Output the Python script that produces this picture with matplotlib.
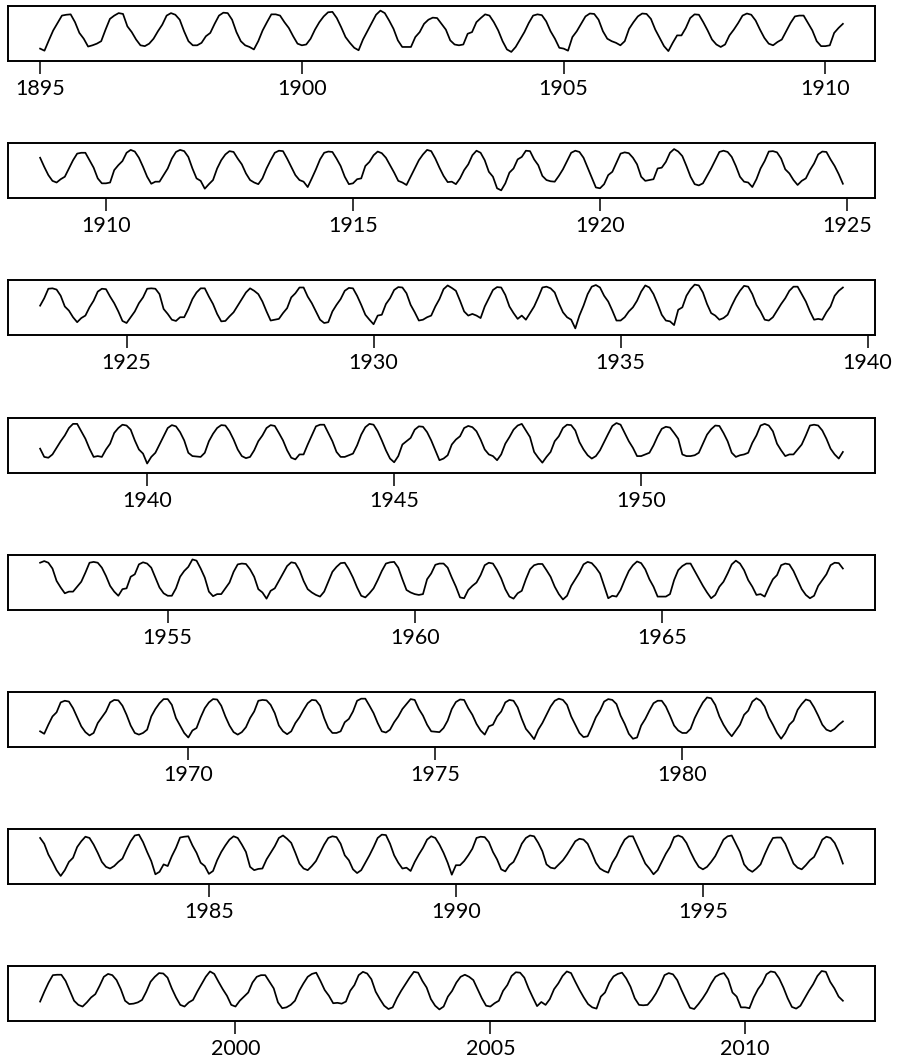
import matplotlib
matplotlib.use("Agg")
import matplotlib.pyplot as plt
from matplotlib.ticker import FixedLocator, FormatStrFormatter
import numpy as np

# monthly mean temperature (deg F), Jan..Dec, one row per year
temp_1890s = [
    31, 28.5, 41, 53, 62, 71, 72, 72.5, 63, 50, 43, 33.5,      # 1895
    35, 37, 40, 54, 67, 71, 74, 73, 58, 51, 42, 35,            # 1896
    34, 37, 43, 52, 60, 71, 74, 72, 66, 52, 40, 35,            # 1897
    35, 38, 46, 50, 61, 71, 74.5, 74, 66, 51, 40, 35,          # 1898
    33, 30, 40, 53, 63, 72.5, 72.5, 71, 63, 56, 46, 37,        # 1899
]
temp_1900s = [
    35, 36, 43, 54, 63, 70, 75, 75.5, 68, 57, 45, 38,
    32, 29, 42, 52, 62, 72, 77, 74, 65, 55, 41, 33,
    33, 33, 45, 51, 61, 66, 68.5, 68, 61, 54, 41, 36,
    35, 36, 49, 51, 63, 68, 72.5, 71, 63, 53, 40, 30,
    27, 33, 42, 51, 62, 71, 72.5, 71.5, 64, 52, 43, 32,
    31, 28.5, 45, 52, 61, 70, 73.5, 73, 66, 52, 43, 40,
    38, 35, 40, 55, 63, 70, 73.5, 73, 67, 54, 44, 34,
    28, 38, 47, 47, 56, 68, 72.5, 72, 63, 53, 42, 36,
    33, 36, 47, 54, 62, 71, 73.5, 72, 65, 54, 44, 37,
    35, 39, 42, 52, 62, 70, 71, 71, 62, 53, 40, 34,
]
temp_1910s = [
    34, 35, 50, 56, 61, 71, 74.5, 72.5, 65, 54, 42, 33.5,
    36, 36, 44, 52, 64, 72, 74.5, 73, 66, 52, 40, 37,
    27.5, 33, 38, 52, 62, 69, 73, 72, 64, 57, 46, 38,
    35, 33, 40, 52, 62, 71, 73.5, 73, 64, 54, 44, 38,
    36, 29.5, 40, 51, 63, 71, 72.5, 72, 64, 55, 42, 33,
    34, 39, 40, 55, 60, 68, 72.5, 70.5, 65, 56, 47, 37,
    35, 32, 42, 52, 62, 69, 74.5, 73, 64, 53, 43, 35.5,
    36, 33, 40, 50, 57, 68, 73.5, 71, 62, 48, 42, 28,
    25.5, 34, 47, 52, 63, 66, 73.5, 73, 63, 56, 43, 38,
    36.5, 36, 43, 51, 61, 71, 73.5, 72, 65, 53, 41, 29,
]
temp_1920s = [
    28, 33, 44, 48, 59, 70, 71.5, 70.5, 65, 57, 42, 37,
    38, 39, 52, 53, 60, 71, 75.5, 72.5, 67, 55, 42, 33,
    31.5, 34, 43, 52, 62, 72, 73.5, 72, 66, 55, 42, 36,
    35, 29.5, 39, 52, 61, 72.5, 73, 71.5, 64, 51, 46, 38,
    32, 37, 40, 50, 58, 69, 72.5, 72, 63, 55, 45, 33.5,
    31, 38, 45, 55, 62, 72.5, 73, 72.5, 66, 48, 42, 35,
    33.5, 38, 38, 48, 60, 68, 73, 73, 63, 54, 42, 33,
    33.5, 39, 44, 52, 60, 68, 73, 70, 66, 57, 45, 34,
    35, 36, 43, 49, 62, 67, 74, 74, 63, 55, 45, 35,
    31, 32, 45, 53, 60, 70, 73.5, 73, 64, 53, 41, 35,
]
temp_1930s = [
    29.5, 40, 41, 54, 61, 71, 74.5, 74, 67, 53, 44, 34,
    35, 38, 40, 51, 60, 72, 76.5, 73.5, 70, 58, 45, 40,
    42, 40, 37, 51, 61, 71, 74.5, 74, 65, 51, 43, 36,
    40, 35, 43, 51, 62, 74, 75, 73, 68, 55, 44, 38,
    35, 24.5, 40, 52, 66, 75, 77, 74, 64, 57, 46, 34,
    34, 38, 45, 50, 58, 69, 76.5, 74, 66, 54, 41, 34,
    33, 28.5, 47, 50, 64, 72, 77.5, 76.5, 68, 54, 43, 40,
    35, 37, 41, 52, 62, 70, 76, 75, 66, 53, 45, 35,
    34, 38, 46, 54, 61, 70, 75, 75, 66, 57, 45, 35,
    36, 35, 44, 51, 64, 70, 74, 73, 68, 55, 44, 39,
]
temp_1940s = [
    27, 35, 40, 50, 60, 70, 73.5, 72, 65, 55, 40, 36,
    35.5, 35, 40, 54, 63, 70, 73.5, 73, 66, 56, 44, 36,
    33.5, 35, 43, 54, 61, 70, 73.5, 72.5, 64, 55, 43, 34,
    32, 38, 38, 50, 61, 72, 74, 74, 64, 54, 41, 35,
    35, 37, 39, 49, 62, 71, 75, 74, 66, 55, 43, 33,
    28.5, 36, 50, 54, 58, 68, 72, 71.5, 65, 55, 43, 31,
    33, 37, 50, 56, 60, 70, 72.5, 71, 66, 56, 44, 38,
    36, 31, 38, 51, 59, 68, 73, 75, 67, 59, 41, 34,
    28, 35, 41, 54, 60, 70, 74, 73.5, 67, 53, 44, 37,
    33, 36, 43, 53, 63, 72.5, 76, 74, 64, 54, 46, 36,
]
temp_1950s = [
    36, 38, 40, 49, 60, 69, 71.5, 70.5, 64, 57, 38, 36,
    36, 37, 40, 51, 62, 68.5, 73, 72.5, 64, 54, 40, 35,
    37, 38, 40, 52, 61, 73, 75, 73, 66, 51, 43, 36,
    38, 38, 44, 50, 61, 73, 74, 73, 67, 57, 45, 38,
    33, 41, 42, 56, 59, 71, 73.5, 72, 67, 55, 43, 36,
    33, 33, 42, 56, 63, 68, 77, 75.5, 66, 55, 38, 32.5,
    35, 35, 42, 49, 62, 71, 72, 71.5, 65, 56, 41, 37,
    29.5, 39, 42, 51, 60, 69, 73.5, 72.5, 64, 51, 41, 37,
    34, 32, 38, 50, 62, 68, 72.5, 73, 65, 55, 43, 33,
    31, 36, 42, 52, 63, 72, 73.5, 74, 67, 53, 40, 37,
]
temp_1960s = [
    35, 34, 35, 53, 60, 70.5, 72, 72, 67, 55, 44, 31,
    30, 40, 45, 49, 58, 70, 73, 72, 64, 54, 41, 32,
    29.5, 36, 39, 53, 65, 70, 71.5, 71.5, 64, 56, 44, 35,
    28.5, 33, 45, 53, 61, 71, 74, 72.5, 67, 60, 45, 30,
    33, 32, 40, 52, 63, 70, 74.5, 72.5, 65, 53, 44, 32,
    32, 32, 35, 52, 64, 69, 72, 72, 63, 54, 45, 37,
    30, 34, 44, 50, 60, 71, 75.5, 72, 64, 52, 44, 34,
    35, 32, 43, 53, 58, 70, 72, 71, 63, 52, 41, 34,
    30, 33, 45, 52, 59, 70, 73, 72.5, 66, 55, 42, 33,
    31, 33, 37, 53, 62, 69, 74, 74, 67, 51, 42, 33,
]
temp_1970s = [
    27.5, 36, 39, 52, 63, 70, 74, 73.5, 66, 53, 42, 34,
    31, 34, 40, 51, 59, 72, 73, 72.5, 67, 57, 42, 35,
    31.5, 35, 45, 52, 61, 69, 73, 72.5, 66, 51, 39, 33,
    33, 35, 46, 50, 59, 72, 74.5, 74.5, 66, 57, 45, 35,
    33.5, 37, 46, 53, 62, 68, 74, 73, 62, 54, 43, 35,
    34.5, 34, 39, 48, 62, 70.5, 73.5, 73, 63, 55, 44, 36,
    31, 41, 43, 53, 59, 70, 73, 72, 64, 50, 38, 32,
    25.5, 37, 45, 55, 65, 72, 74.5, 73, 67, 53, 43, 33,
    28, 29, 40, 52, 60, 71, 74, 73, 68, 54, 44, 32,
    26, 27.5, 42, 50, 60, 69, 72, 72, 65, 54, 42, 36,
]
temp_1980s = [
    33, 33, 38, 51, 61, 70, 76, 75, 67, 53, 43, 35,
    29, 36, 43, 55, 60, 71, 75, 72, 65, 52, 43, 33,
    26, 33, 43, 48, 61, 68, 73.5, 72, 64, 54, 43, 37,
    35, 38, 43, 47, 58, 68, 75, 76, 67, 55, 44, 28,
    31, 40, 38, 50, 60, 72.5, 73.5, 74, 63, 54, 42, 38,
    28.5, 32, 45, 55, 63, 70, 74, 72, 64, 55, 37, 33,
    34.5, 35, 46, 54, 62, 72, 75, 71, 66, 54, 41, 35,
    33, 38, 44, 54, 64, 72, 74, 73, 65, 51, 45, 34,
    29.5, 33, 42, 51, 61, 72, 76, 75.5, 65, 51, 42, 35,
    36, 32, 43, 52, 60, 70, 74, 72, 64, 54, 42, 27.5,
]
temp_1990s = [
    39, 39, 44, 51, 59, 72, 73.5, 73, 67, 55, 46, 34,
    31.5, 39, 43, 53, 65, 72, 75, 74, 66, 56, 40, 36,
    35, 40, 45, 52, 60, 68, 71, 70, 65, 54, 42, 35,
    32, 30, 42, 50, 61, 70, 74, 74, 63, 52, 41, 35,
    28, 33, 43, 53, 61, 73, 75, 73, 66, 55, 45, 37,
    34, 37, 43, 50, 60, 70, 74, 75, 65, 55, 40, 34,
    31, 35, 40, 52, 63, 72, 72.5, 72.5, 65, 53, 41, 36,
    34, 39, 45, 49, 59, 70, 73.5, 72, 66, 55, 41, 37,
    37.5, 39, 42, 52, 64, 70, 74.5, 74, 69, 56, 45, 36,
    34, 39, 42, 52, 61, 70, 76.5, 73.5, 64, 55, 47, 36,
]
temp_2000s = [
    34, 41, 46, 51, 63, 70, 72, 72, 64, 56, 39, 32,
    33, 36, 41, 53, 62, 70, 73.5, 75, 65, 54, 47, 38,
    38.5, 37.5, 40, 53, 60, 72, 76, 74, 67, 52, 43, 35,
    31, 33, 44, 53, 61, 69, 76, 75, 65, 57, 43, 35,
    30.5, 34, 46, 53, 63, 70, 72.5, 70, 66, 55, 44, 35,
    34, 38, 41, 53, 60, 71, 75.5, 75, 69, 56, 45, 34.5,
    39.5, 36, 43, 55, 62, 71, 76.5, 74.5, 64, 54, 45, 37,
    33, 31.5, 46, 51, 63, 70.5, 73.5, 75, 68, 58, 44, 36,
    35.5, 36, 42, 50, 60, 72, 74.5, 73, 66, 54, 43, 32.5,
    31, 37, 44, 52, 62, 70, 73, 74.5, 67, 51, 46, 33,
]
temp_2010s = [
    33, 32, 45, 55, 62, 73, 76.5, 75.5, 68, 57, 44, 33.5,
    31.5, 35, 44, 53, 61, 71, 77, 76, 64, 56, 46, 41,
]

first_year = 1895

# first and last month (index from Jan 1895) shown in each panel
panel_start = [0, 164, 339, 514, 689, 864, 1039, 1214]
panel_end = [184, 359, 534, 709, 884, 1059, 1234, 1403]

temps = np.array(temp_1890s + temp_1900s + temp_1910s + temp_1920s + temp_1930s
                 + temp_1940s + temp_1950s + temp_1960s + temp_1970s + temp_1980s
                 + temp_1990s + temp_2000s + temp_2010s)
time = first_year + np.arange(len(temps)) / 12.0

plt.rcParams['font.family'] = ['Lato', 'DejaVu Sans']

W, H = 898, 1058
fig = plt.figure(figsize=(W / 100, H / 100), dpi=100)

for k in range(len(panel_start)):
    top = 6 + k * 137.2
    ax = fig.add_axes([8 / W, 1 - (top + 55) / H, 867 / W, 55 / H])
    s, e = panel_start[k], panel_end[k]
    ax.plot(time[s:e + 1], temps[s:e + 1], color='black', lw=1.25)
    span = time[e] - time[s]
    x0, x1 = time[s] - 0.04 * span, time[e] + 0.04 * span
    ax.set_xlim(x0, x1)
    ax.set_ylim(16, 82.6)
    ticks = np.arange(np.ceil(x0 / 5) * 5, x1, 5)
    ax.xaxis.set_major_locator(FixedLocator(ticks))
    ax.xaxis.set_major_formatter(FormatStrFormatter('%d'))
    ax.set_yticks([])
    ax.tick_params(axis='x', direction='out', length=9, width=1.1,
                   pad=4, labelsize=15.5, colors='black')
    for sp in ax.spines.values():
        sp.set_linewidth(1.4)

fig.savefig('out.png', dpi=100)
